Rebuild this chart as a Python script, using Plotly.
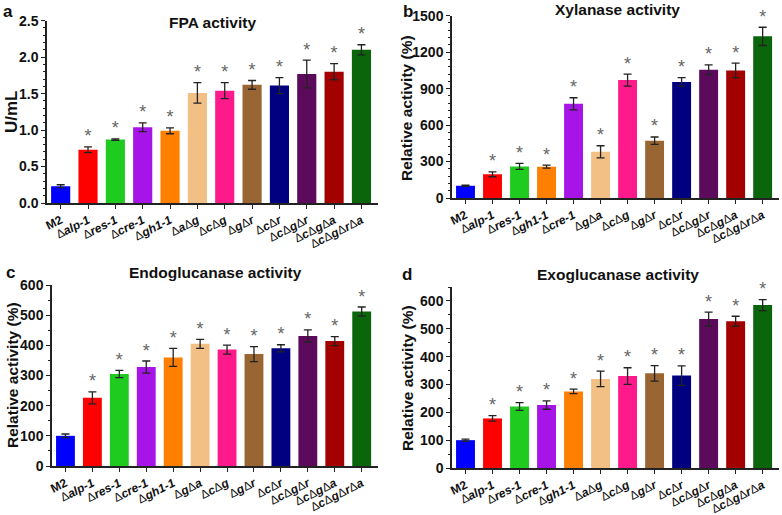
"""
Cellulase activity of deletion strains: FPA, xylanase, endoglucanase, exoglucanase
"""

import plotly.graph_objects as go

FONT = "Arial, Liberation Sans, sans-serif"
W, H = 782, 515

# strain -> colour
COLORS = {
    "M2": "#0000ff",
    "alp-1": "#ff0000",
    "res-1": "#1ecb1e",
    "cre-1": "#a614e8",
    "gh1-1": "#ff8000",
    "ag": "#f2bf85",
    "ga": "#f2bf85",
    "cg": "#ff1a8c",
    "gr": "#996633",
    "cr": "#000080",
    "cgr": "#5c0a5c",
    "cga": "#a30000",
    "cgra": "#0b650b",
}

LABELS = {
    "M2": "<b>M2</b>",
    "alp-1": "Δ<b><i>alp-1</i></b>",
    "res-1": "Δ<b><i>res-1</i></b>",
    "cre-1": "Δ<b><i>cre-1</i></b>",
    "gh1-1": "Δ<b><i>gh1-1</i></b>",
    "ag": "Δ<b><i>a</i></b>Δ<b><i>g</i></b>",
    "ga": "Δ<b><i>g</i></b>Δ<b><i>a</i></b>",
    "cg": "Δ<b><i>c</i></b>Δ<b><i>g</i></b>",
    "gr": "Δ<b><i>g</i></b>Δ<b><i>r</i></b>",
    "cr": "Δ<b><i>c</i></b>Δ<b><i>r</i></b>",
    "cgr": "Δ<b><i>c</i></b>Δ<b><i>g</i></b>Δ<b><i>r</i></b>",
    "cga": "Δ<b><i>c</i></b>Δ<b><i>g</i></b>Δ<b><i>a</i></b>",
    "cgra": "Δ<b><i>c</i></b>Δ<b><i>g</i></b>Δ<b><i>r</i></b>Δ<b><i>a</i></b>",
}

# === a: FPA ===
fpa_strains = ["M2", "alp-1", "res-1", "cre-1", "gh1-1", "ag", "cg", "gr", "cr", "cgr", "cga", "cgra"]
fpa_values = [0.23, 0.73, 0.87, 1.04, 0.99, 1.51, 1.54, 1.62, 1.61, 1.77, 1.80, 2.10]
fpa_errors = [0.02, 0.04, 0.01, 0.06, 0.04, 0.14, 0.11, 0.06, 0.11, 0.19, 0.11, 0.07]

# === b: Xylanase ===
xyl_strains = ["M2", "alp-1", "res-1", "gh1-1", "cre-1", "ga", "cg", "gr", "cr", "cgr", "cga", "cgra"]
xyl_values = [100, 195, 260, 258, 775, 380, 970, 472, 955, 1055, 1050, 1330]
xyl_errors = [5, 20, 25, 12, 50, 50, 50, 30, 35, 40, 60, 75]

# === c: Endoglucanase ===
endo_strains = ["M2", "alp-1", "res-1", "cre-1", "gh1-1", "ga", "cg", "gr", "cr", "cgr", "cga", "cgra"]
endo_values = [100, 226, 305, 328, 360, 405, 386, 371, 390, 431, 414, 512]
endo_errors = [6, 20, 12, 20, 30, 15, 15, 25, 12, 20, 15, 15]

# === d: Exoglucanase ===
exo_strains = ["M2", "alp-1", "res-1", "cre-1", "gh1-1", "ag", "cg", "gr", "cr", "cgr", "cga", "cgra"]
exo_values = [100, 178, 221, 226, 275, 320, 330, 340, 332, 535, 527, 585]
exo_errors = [4, 10, 14, 15, 8, 28, 30, 28, 35, 25, 18, 20]


def px(x):
    return x / W


def py(y):
    return 1 - y / H


panels = [
    # strains, values, errors, y range, major, minor, x px span, y px span (bottom, top), fmt
    (fpa_strains, fpa_values, fpa_errors, [0, 2.5], 0.5, 0.1, (47, 378), (203, 20.7), ".1f"),
    (xyl_strains, xyl_values, xyl_errors, [0, 1500], 300, 60, (452, 779), (198, 15.7), "d"),
    (endo_strains, endo_values, endo_errors, [0, 600], 100, 50, (52, 378), (466, 285), "d"),
    (exo_strains, exo_values, exo_errors, [0, 650], 100, 50, (452, 779), (468, 287), "d"),
]

fig = go.Figure()

for i, (strains, vals, errs, yr, dt, mdt, xs, ys, fmt) in enumerate(panels):
    n = "" if i == 0 else str(i + 1)
    xref, yref = "x" + n, "y" + n
    fig.add_trace(go.Bar(
        x=strains, y=vals,
        marker=dict(color=[COLORS[s] for s in strains], line=dict(width=0)),
        error_y=dict(type="data", array=errs, color="#222222", thickness=1.3, width=4),
        xaxis=xref, yaxis=yref, showlegend=False,
    ))
    # significance stars above error bars (not on the control)
    fig.add_trace(go.Scatter(
        x=strains[1:], y=[v + e for v, e in zip(vals[1:], errs[1:])],
        mode="text", text=["*"] * (len(strains) - 1), textposition="top center",
        textfont=dict(family=FONT, size=18, color="#666666"), cliponaxis=False,
        xaxis=xref, yaxis=yref, showlegend=False,
    ))
    axis_line = dict(showline=True, linecolor="#222222", linewidth=1.5, ticks="outside",
                     tickcolor="#222222", ticklen=4, showgrid=False, zeroline=False,
                     automargin=False)
    fig.update_layout(**{
        "xaxis" + n: dict(domain=[px(xs[0]), min(px(xs[1]), 1)], anchor=yref, type="category",
                          tickangle=-27, tickvals=strains, ticktext=[LABELS[s] for s in strains],
                          tickfont=dict(family=FONT, size=12, color="#111111"), **axis_line),
        "yaxis" + n: dict(domain=[py(ys[0]), py(ys[1])], anchor=xref, range=yr, dtick=dt,
                          tickformat=fmt,
                          minor=dict(dtick=mdt, ticks="outside", ticklen=2.5, tickcolor="#222222"),
                          tickfont=dict(family=FONT, size=14, color="#111111", weight="bold"),
                          **axis_line),
    })

# titles, panel letters, y-axis labels
texts = [
    ("<b>FPA activity</b>", 212, 22, 0, 15.5),
    ("<b>Xylanase activity</b>", 617, 10, 0, 15.5),
    ("<b>Endoglucanase activity</b>", 215, 272, 0, 15.5),
    ("<b>Exoglucanase activity</b>", 618, 274, 0, 15.5),
    ("<b>a</b>", 8, 12, 0, 17),
    ("<b>b</b>", 408, 12, 0, 17),
    ("<b>c</b>", 10, 272, 0, 17),
    ("<b>d</b>", 407, 274, 0, 17),
    ("<b>U/mL</b>", 12, 112, -90, 17),
    ("<b>Relative activity (%)</b>", 407, 108, -90, 15.5),
    ("<b>Relative activity (%)</b>", 12, 375, -90, 15.5),
    ("<b>Relative activity (%)</b>", 407, 378, -90, 15.5),
]
for t, tx, ty, ang, sz in texts:
    fig.add_annotation(text=t, x=px(tx), y=py(ty), xref="paper", yref="paper",
                       showarrow=False, textangle=ang, xanchor="center", yanchor="middle",
                       font=dict(family=FONT, size=sz, color="#111111"))

fig.update_layout(
    width=W, height=H,
    margin=dict(l=0, r=0, t=0, b=0),
    paper_bgcolor="white", plot_bgcolor="white",
    bargap=0.3,
    font=dict(family=FONT),
)

# the page body has a default 8px margin; drop it so the figure fills the window
fig.write_html("out.html", config={"displayModeBar": False},
               post_script="document.body.style.margin='0';")
